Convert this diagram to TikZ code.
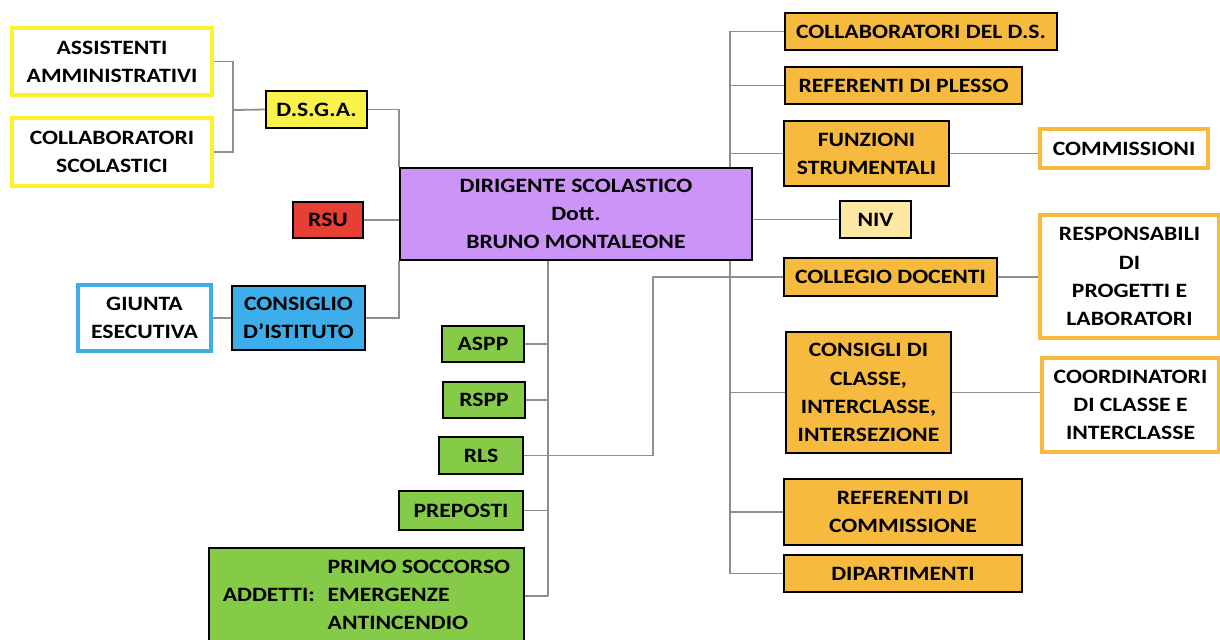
\documentclass[tikz,border=0pt]{standalone}
\usepackage{fontspec}
\setmainfont{Carlito}[BoldFeatures={FakeStretch=1.16}]
\usepackage{xcolor}
\usetikzlibrary{calc,backgrounds}

\definecolor{dsgayellow}{HTML}{F9F24B}
\definecolor{rimyellow}{HTML}{FFF02E}
\definecolor{rsured}{HTML}{E83F35}
\definecolor{cielo}{HTML}{3DAEEA}
\definecolor{lilla}{HTML}{CC94F6}
\definecolor{verde}{HTML}{85CB47}
\definecolor{arancio}{HTML}{F6BA3E}
\definecolor{crema}{HTML}{FCE8A2}
\definecolor{filo}{HTML}{8E8E8E}

\newcommand{\lbl}{\fontsize{14.5}{20}\selectfont\bfseries}

\tikzset{
  box/.style={draw=black, line width=1.6pt, inner sep=0pt, align=center, font=\lbl, text=black},
  rim/.style={draw=#1, line width=2.8pt, fill=white, inner sep=0pt, align=center, font=\lbl, text=black},
  wire/.style={draw=filo, line width=1.3pt},
}

\begin{document}
\begin{tikzpicture}[x=0.025cm,y=-0.025cm]
    \useasboundingbox (0,0) rectangle (1220,639);
    % centre
    \node (ds) [box, fill=lilla, minimum width=8.8cm, minimum height=2.3cm] at (576,214)
      {DIRIGENTE SCOLASTICO\\ Dott.\\ BRUNO MONTALEONE};
    % lato sinistro
    \node (assist) [rim=rimyellow, minimum width=5cm, minimum height=1.675cm] at (112,61.5)
      {ASSISTENTI\\ AMMINISTRATIVI};
    \node (collab) [rim=rimyellow, minimum width=5cm, minimum height=1.7cm] at (112,152)
      {COLLABORATORI\\ SCOLASTICI};
    \node (dsga) [box, fill=dsgayellow, minimum width=2.525cm, minimum height=0.925cm] at (316.5,109.5) {D.S.G.A.};
    \node (rsu) [box, fill=rsured, minimum width=1.75cm, minimum height=0.9cm] at (328,220) {RSU};
    \node (giunta) [rim=cielo, minimum width=3.325cm, minimum height=1.65cm] at (144.5,318)
      {GIUNTA\\ ESECUTIVA};
    \node (consiglio) [box, fill=cielo, minimum width=3.325cm, minimum height=1.6cm] at (298.5,318)
      {CONSIGLIO\\ D’ISTITUTO};
    % sicurezza
    \node (aspp) [box, fill=verde, minimum width=2.05cm, minimum height=0.9cm] at (483,344) {ASPP};
    \node (rspp) [box, fill=verde, minimum width=2.05cm, minimum height=0.9cm] at (484,400) {RSPP};
    \node (rls) [box, fill=verde, minimum width=2.1cm, minimum height=0.925cm] at (481,455.5) {RLS};
    \node (preposti) [box, fill=verde, minimum width=3.1cm, minimum height=0.975cm] at (461,510.5) {PREPOSTI};
    \node (addetti) [box, fill=verde, minimum width=7.875cm, minimum height=2.4cm] at (366.5,596)
      {\begin{tabular}{@{}l@{\hspace{9pt}}l@{}}
        & PRIMO SOCCORSO\\
        ADDETTI: & EMERGENZE\\
        & ANTINCENDIO
      \end{tabular}};
    % lato destro
    \node (collds) [box, fill=arancio, minimum width=6.8cm, minimum height=0.925cm] at (921,31.5) {COLLABORATORI DEL D.S.};
    \node (plesso) [box, fill=arancio, minimum width=5.925cm, minimum height=0.925cm] at (903.5,85.5) {REFERENTI DI PLESSO};
    \node (funzioni) [box, fill=arancio, minimum width=4.125cm, minimum height=1.625cm] at (866.5,153.5)
      {FUNZIONI\\ STRUMENTALI};
    \node (commissioni) [rim=arancio, minimum width=4.2cm, minimum height=0.975cm] at (1124,148.5) {COMMISSIONI};
    \node (niv) [box, fill=crema, minimum width=1.775cm, minimum height=0.925cm] at (875.5,219.5) {NIV};
    \node (collegio) [box, fill=arancio, minimum width=5.325cm, minimum height=0.95cm] at (890.5,277) {COLLEGIO DOCENTI};
    \node (progetti) [rim=arancio, minimum width=4.475cm, minimum height=3.075cm] at (1129.5,276.5)
      {RESPONSABILI\\ DI\\ PROGETTI E\\ LABORATORI};
    \node (consigli) [box, fill=arancio, minimum width=4.125cm, minimum height=3.025cm] at (868.5,392.5)
      {CONSIGLI DI\\ CLASSE,\\ INTERCLASSE,\\ INTERSEZIONE};
    \node (coord) [rim=arancio, minimum width=4.425cm, minimum height=2.35cm] at (1130.5,405)
      {COORDINATORI\\ DI CLASSE E\\ INTERCLASSE};
    \node (refcomm) [box, fill=arancio, minimum width=5.95cm, minimum height=1.65cm] at (903,512)
      {REFERENTI DI\\ COMMISSIONE};
    \node (dipart) [box, fill=arancio, minimum width=5.95cm, minimum height=0.925cm] at (903,573.5) {DIPARTIMENTI};

    \coordinate (brk) at (233,110);
    \coordinate (trunkL) at (548,0);
    \coordinate (trunkR) at (730,0);
    \coordinate (bend) at (653,0);

    \begin{pgfonlayer}{background}
      \draw[wire] (assist.east) -| (brk) |- (collab.east);
      \draw[wire] (brk) -- (dsga.west);
      \draw[wire] (dsga.east) -| (ds.north west);
      \draw[wire] (consiglio.east) -| (ds.south west);
      \draw[wire] (rsu.east) -- (ds.west |- rsu.east);
      \draw[wire] (giunta.east) -- (consiglio.west);
      % sicurezza
      \draw[wire] (ds.south -| trunkL) -- (trunkL |- addetti.east);
      \foreach \n in {aspp,rspp,preposti,addetti}
        \draw[wire] (\n.east) -- (trunkL |- \n.east);
      \draw[wire] (rls.east) -| (bend |- collegio.west) -- (collegio.west);
      % staff
      \draw[wire] (collds.west) -| (trunkR |- dipart.west) -- (dipart.west);
      \foreach \n in {plesso,funzioni,consigli,refcomm}
        \draw[wire] (\n.west) -- (trunkR |- \n.west);
      \draw[wire] (ds.east |- niv.west) -- (niv.west);
      \draw[wire] (funzioni.east) -- (funzioni.east -| commissioni.west);
      \draw[wire] (collegio.east) -- (collegio.east -| progetti.west);
      \draw[wire] (consigli.east) -- (consigli.east -| coord.west);
    \end{pgfonlayer}
\end{tikzpicture}
\end{document}
